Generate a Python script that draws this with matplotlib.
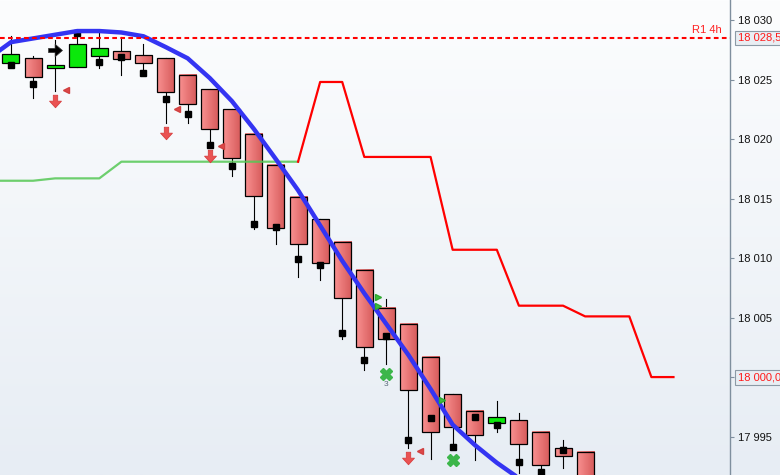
import matplotlib
matplotlib.use("Agg")
import matplotlib.pyplot as plt
import numpy as np
from matplotlib.path import Path
from matplotlib.patches import Rectangle
from matplotlib.colors import LinearSegmentedColormap
from matplotlib.transforms import blended_transform_factory

plt.rcParams['font.family'] = ['Liberation Sans', 'DejaVu Sans']

# --- bougies (OHLC) ---
opens = [18026.36, 18026.78, 18025.99, 18026.07, 18027.00, 18027.37, 18027.03, 18026.78, 18025.35,
         18024.17, 18022.49, 18020.47, 18017.86, 18015.17, 18013.26, 18011.38, 18009.03, 18005.83,
         18004.48, 18001.71, 17998.59, 17997.16, 17996.15, 17996.40, 17995.40, 17994.05, 17993.71]
highs = [18028.65, 18026.97, 18028.37, 18029.20, 18028.96, 18028.60, 18027.98, 18026.78, 18025.35,
         18024.17, 18022.49, 18020.47, 18017.86, 18015.17, 18013.26, 18011.38, 18009.03, 18006.53,
         18004.48, 18001.71, 17998.59, 17997.16, 17998.03, 17997.00, 17995.40, 17994.75, 17993.71]
lows = [18026.10, 18023.46, 18024.05, 18026.07, 18025.99, 18025.37, 18025.40, 18021.36, 18021.36,
        18019.34, 18016.90, 18012.47, 18011.21, 18008.41, 18008.18, 18003.22, 18000.61, 18001.12,
        17994.00, 17993.12, 17994.13, 17993.04, 17995.36, 17991.95, 17991.00, 17992.37, 17990.00]
closes = [18027.11, 18025.26, 18026.19, 18027.98, 18027.62, 18026.74, 18026.41, 18023.97, 18022.91,
          18020.89, 18018.45, 18015.22, 18012.56, 18011.21, 18009.61, 18006.67, 18002.52, 18003.22,
          17998.93, 17995.40, 17995.82, 17995.14, 17996.66, 17994.39, 17992.62, 17993.38, 17990.50]
squares = [18026.19, 18024.67, np.nan, 18028.95, 18026.44, 18026.86, 18025.52, 18023.33, 18022.07,
           18019.54, 18017.72, 18012.90, 18012.64, 18009.95, 18009.45, 18003.72, 18001.45, 18003.44,
           17994.72, 17996.57, 17994.13, 17996.68, 17995.98, 17992.87, 17992.06, 17993.90, np.nan]

# moyenne mobile (bleu)
ma_x = list(range(-1, 24))
ma_vals = [18026.80, 18028.15, 18028.46, 18028.77, 18029.08, 18029.08, 18028.96, 18028.64, 18027.74,
           18026.79, 18025.13, 18023.20, 18020.85, 18018.30, 18015.70, 18012.74, 18009.77, 18007.04,
           18004.45, 18001.85, 17999.00, 17996.00, 17994.30, 17992.80, 17991.50]

# support (vert) puis resistance (rouge)
sup_x = list(range(-1, 14))
sup_vals = [18016.5, 18016.5, 18016.5, 18016.7, 18016.7, 18016.7, 18018.1, 18018.1, 18018.1,
            18018.1, 18018.1, 18018.1, 18018.1, 18018.1, 18018.1]
res_x = list(range(13, 31))
res_vals = [18018.1, 18024.8, 18024.8, 18018.5, 18018.5, 18018.5, 18018.5, 18010.7, 18010.7,
            18010.7, 18006.0, 18006.0, 18006.0, 18005.1, 18005.1, 18005.1, 18000.0, 18000.0]

r1_level = 18028.5
last_level = 18000.0
yticks = [17995, 18000, 18005, 18010, 18015, 18020, 18025, 18030]

# signaux
down_x = [2, 7, 9, 18]
down_y = [18023.2, 18020.5, 18018.6, 17993.2]
ltri_x = [2.47, 7.5, 9.49, 18.5]
ltri_y = [18024.1, 18022.5, 18019.4, 17993.8]
gtri_x = [16.6, 16.6, 19.54]
gtri_y = [18006.7, 18006.0, 17998.1]
cross_x = [17, 20]
cross_y = [18000.3, 17993.0]
right_arrow_x = [2]
right_arrow_y = [18027.5]

fig = plt.figure(figsize=(7.8, 4.75), dpi=100)

# fond degrade
bg = fig.add_axes([0, 0, 1, 1], zorder=0)
grad = np.linspace(0, 1, 256).reshape(-1, 1)
bg_cmap = LinearSegmentedColormap.from_list('bg', ['#fcfdfe', '#e7edf4'])
bg.imshow(grad, cmap=bg_cmap, aspect='auto', extent=(0, 1, 1, 0))
bg.set_xlim(0, 1)
bg.set_ylim(1, 0)
bg.axis('off')

ax = fig.add_axes([0, 0, 730 / 780, 1], zorder=1)
ax.set_facecolor('none')

red_cmap = LinearSegmentedColormap.from_list('rc', ['#f99090', '#d65b5b'])
row = np.linspace(0, 1, 32).reshape(1, -1)
w = 0.77
for k, (o, h, l, c) in enumerate(zip(opens, highs, lows, closes)):
    top, bot = max(o, c), min(o, c)
    ax.plot([k, k], [l, h], color='black', lw=0.8, zorder=2)
    if c >= o:
        ax.add_patch(Rectangle((k - w / 2, bot), w, top - bot, facecolor='#0be80b',
                               edgecolor='black', lw=0.9, zorder=3))
    else:
        ax.imshow(row, cmap=red_cmap, aspect='auto', extent=(k - w / 2, k + w / 2, bot, top),
                  zorder=3, interpolation='bilinear')
        ax.add_patch(Rectangle((k - w / 2, bot), w, top - bot, fill=False,
                               edgecolor='black', lw=0.9, zorder=3.1))

ax.plot(range(len(squares)), squares, 's', color='black', ms=4, zorder=4, ls='none')

ax.plot(sup_x, sup_vals, color='#55c855', lw=1.6, alpha=0.85, zorder=3.5)
ax.plot(res_x, res_vals, color='#ff0000', lw=1.6, zorder=3.5)
ax.plot(ma_x, ma_vals, color='#3434f2', lw=3.2, zorder=5, solid_capstyle='round')

ax.axhline(r1_level, color='#ff0000', lw=1.5, ls=(0, (2.25, 1.6)), zorder=5.5)
ax.text(32.2, r1_level + 0.25, 'R1 4h', color='#ff2020', fontsize=8, ha='right', va='bottom', zorder=6)

down_path = Path([(-0.35, 1), (0.35, 1), (0.35, 0.05), (0.95, 0.05), (0, -1), (-0.95, 0.05),
                  (-0.35, 0.05), (-0.35, 1)], closed=True)
right_path = Path([(-1, 0.3), (-0.05, 0.3), (-0.05, 0.9), (1, 0), (-0.05, -0.9), (-0.05, -0.3),
                   (-1, -0.3), (-1, 0.3)], closed=True)
ax.plot(down_x, down_y, ls='none', marker=down_path, ms=9, mfc='#ea5252', mec='#d84040', mew=0.6, zorder=6)
ax.plot(right_arrow_x, right_arrow_y, ls='none', marker=right_path, ms=10, mfc='black', mec='#333333',
        mew=0.5, zorder=6)
ax.plot(ltri_x, ltri_y, ls='none', marker='<', ms=4.5, mfc='#e04848', mec='#d04040', zorder=6)
ax.plot(gtri_x, gtri_y, ls='none', marker='>', ms=4.5, mfc='#3fbf3f', mec='#2fa82f', zorder=6)
ax.plot(cross_x, cross_y, ls='none', marker='X', ms=8.5, mfc='#3cb64a', mec='#3cb64a', zorder=6)
ax.text(cross_x[0], cross_y[0] - 0.95, '3', color='#5a6a7a', fontsize=6, ha='center', va='center', zorder=6)

ax.set_xlim(-0.498, 32.56)
ax.set_ylim(17991.77, 18031.69)

for s in ['top', 'left', 'bottom']:
    ax.spines[s].set_visible(False)
ax.spines['right'].set_color('#7f8f9e')
ax.spines['right'].set_linewidth(1.0)
ax.set_xticks([])
ax.yaxis.tick_right()
ax.set_yticks(yticks)
ax.set_yticklabels(['' if v == 18000 else f'{v:,}'.replace(',', ' ') for v in yticks])
ax.tick_params(axis='y', length=3, width=0.8, color='#7f8f9e', pad=2.5, labelsize=8, labelcolor='#111111')
for t, v in zip(ax.yaxis.get_major_ticks(), yticks):
    if v == 18000:
        t.tick2line.set_color('#ff0000')

tr = blended_transform_factory(ax.transAxes, ax.transData)
for lvl, txt in [(r1_level, '18 028,5'), (last_level, '18 000,0')]:
    ax.text(1.0105, lvl, txt, transform=tr, color='#ff1a1a', fontsize=8, ha='left', va='center',
            clip_on=False, zorder=7,
            bbox=dict(boxstyle='square,pad=0.22', fc='#e9eef3', ec='#8c9aa6', lw=0.8))

fig.savefig('out.png', dpi=100)
